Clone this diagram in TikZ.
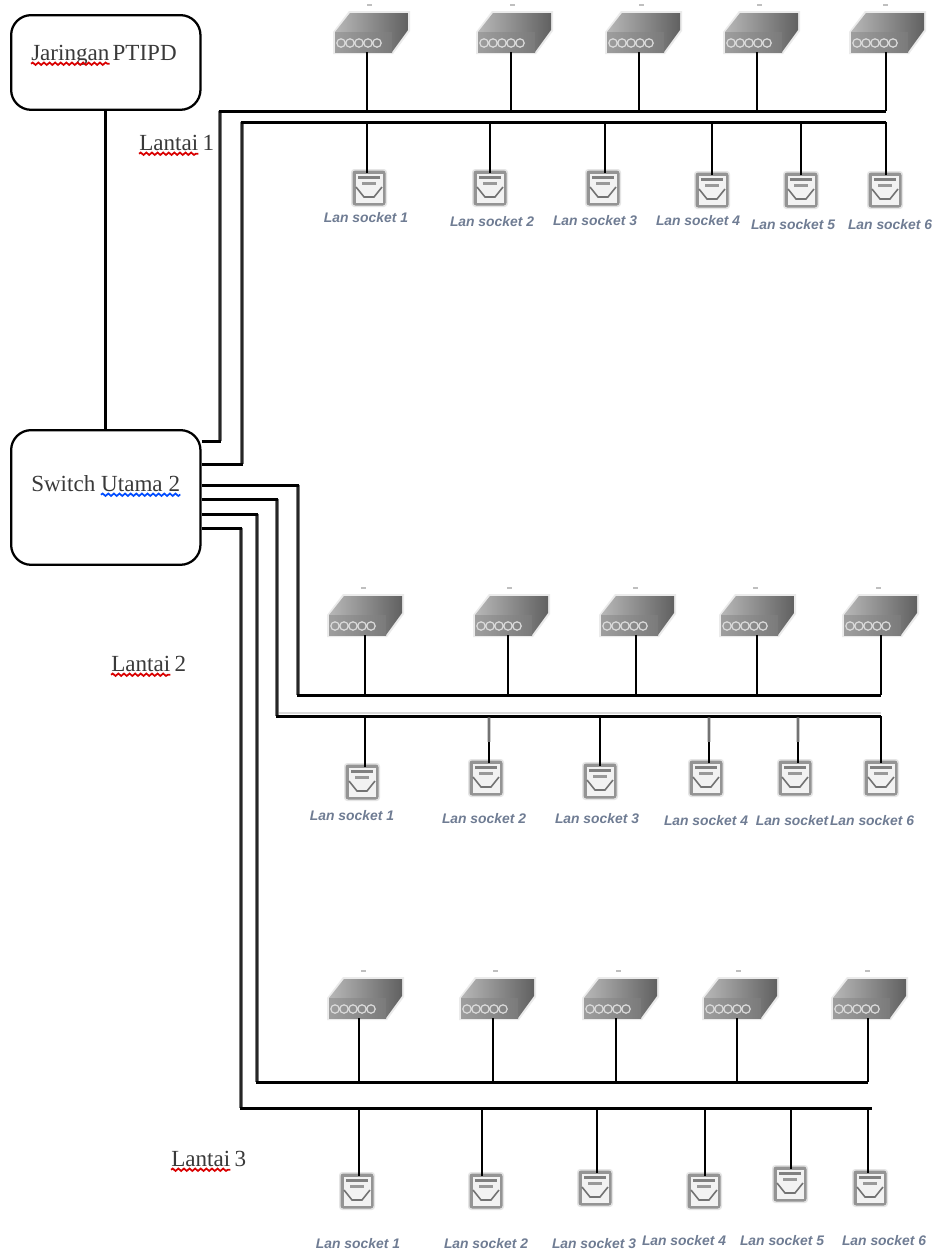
\documentclass[tikz,border=0pt]{standalone}
\usepackage{fontspec}
\setmainfont{Liberation Serif}
\newfontfamily\lanfont{Liberation Sans}
\usetikzlibrary{decorations.pathmorphing,calc}
\definecolor{lancol}{HTML}{6F7C93}
\definecolor{txtcol}{HTML}{3A3A3A}
\tikzset{
  x=0.75pt,y=-0.75pt,
  boxstyle/.style={draw=black,line width=1.7pt,rounded corners=15pt,fill=white},
  wire/.style={draw=black,line width=2.25pt,line cap=butt},
  thinwire/.style={draw=black,line width=2.1pt},
  fadewire/.style={draw=black!55,line width=2.1pt},
  halo/.style={draw=black!15,line width=1.5pt},
  vbus/.style={draw=black!52,line width=3pt},
  vcore/.style={draw=black!85,line width=1.1pt},
  txt/.style={font=\fontsize{17.3}{20}\selectfont,text=txtcol,inner sep=0pt,anchor=base west},
  lanlabel/.style={font=\lanfont\itshape\bfseries\fontsize{10.4}{12}\selectfont,text=lancol,inner sep=0pt},
  redwave/.style={draw=red!85!black,line width=1.3pt,decorate,decoration={snake,amplitude=0.9pt,segment length=4.2pt}},
  bluewave/.style={draw=blue!70!cyan,line width=1.3pt,decorate,decoration={snake,amplitude=0.9pt,segment length=4.2pt}},
}
% name, left, bottom, port x
\newcommand{\swicon}[4]{%
  \begin{scope}[shift={(#2,#3)}]
    \fill[black!8] (-2,-20)--(14,-41)--(75,-41)--(75,-21)--(58,2)--(-2,2)--cycle;
    \shade[left color=black!28,right color=black!62] (0,-20)--(15,-39)--(73,-39)--(73,-22)--(57,0)--(0,0)--cycle;
    \shade[left color=black!38,right color=black!52] (0,-20) rectangle (57,0);
    \draw[black!14,line width=0.9pt] (6,-9) circle (4.2) (15,-9) circle (4.2) (24,-9) circle (4.2) (33,-9) circle (4.2) (42,-9) circle (4.2);
    \fill[black!25] (32,-48) rectangle (37,-46.5);
  \end{scope}
  \coordinate (#1) at (#4,#3);}
% name, centre x, centre y
\newcommand{\sockicon}[3]{%
  \begin{scope}[shift={(#2,#3)}]
    \fill[black!10,rounded corners=2.5pt] (-18,-19) rectangle (18,19);
    \fill[black!42,rounded corners=2pt] (-16.5,-17.5) rectangle (16.5,17.5);
    \fill[black!5] (-13.5,-14.5) rectangle (13.5,14.5);
    \fill[black!50] (-11,-12) rectangle (11,-9);
    \fill[black!40] (-7,-6.5) rectangle (7,-3.5);
    \draw[black!55,line width=1.2pt] (-13,-1) -- (-5,9) -- (5,9) -- (13,-1);
  \end{scope}
  \coordinate (#1) at (#2,#3-15);}
% name, vertical x, origin y, bus y, end x
\newcommand{\busline}[5]{%
  \coordinate (#1o) at (#2,#3);
  \coordinate (#1e) at (#5,#4);
  \draw[vbus] (#1o) -- (#1o |- #1e);
  \draw[vcore] (#1o) -- (#1o |- #1e);
  \draw[wire] (swb.east |- #1o) -- ([xshift=1.1pt]#1o);
  \draw[wire] ([xshift=-1.1pt]#1o |- #1e) -- (#1e);}
\begin{document}
\begin{tikzpicture}
\useasboundingbox[fill=white] (0,0) rectangle (937,1254);

% boxes
\node[boxstyle,minimum width=142pt,minimum height=71pt,anchor=north west] (jar) at (10,14) {};
\node[boxstyle,minimum width=142pt,minimum height=101pt,anchor=north west] (swb) at (10,429) {};
\draw[wire] (jar.south) -- (swb.north);

% box texts
\node[txt] (j1) at (31,60) {Jaringan};
\node[txt,anchor=base west] (j2) at ([xshift=2pt]j1.base east) {PTIPD};
\draw[redwave] ([yshift=-2.8pt]j1.base west) -- ([yshift=-2.8pt]j1.base east);
\node[txt] (s1) at (31,491) {Switch};
\node[txt] (s2) at ([xshift=4pt]s1.base east) {Utama};
\node[txt] (s3) at ([xshift=4pt]s2.base east) {2};
\draw[bluewave] ([yshift=-2.8pt]s2.base west) -- ([yshift=-2.8pt]s3.base east);

% floor labels
\node[txt] (la1) at (139,150) {Lantai};
\node[txt] (la1n) at ([xshift=3pt]la1.base east) {1};
\draw[redwave] ([yshift=-2.8pt]la1.base west) -- ([yshift=-2.8pt]la1.base east);
\node[txt] (la2) at (111,671) {Lantai};
\node[txt] (la2n) at ([xshift=3pt]la2.base east) {2};
\draw[redwave] ([yshift=-2.8pt]la2.base west) -- ([yshift=-2.8pt]la2.base east);
\node[txt] (la3) at (171,1166) {Lantai};
\node[txt] (la3n) at ([xshift=3pt]la3.base east) {3};
\draw[redwave] ([yshift=-2.8pt]la3.base west) -- ([yshift=-2.8pt]la3.base east);

% halo above the second-floor socket bus
\coordinate (hs) at (277,713);
\coordinate (he) at (881,713);
\draw[halo] (hs) -- (he);

% trunk lines
\busline{ba}{220}{441}{111}{886}
\busline{bb}{242}{464}{122}{886}
\busline{bc}{298}{485}{695}{881}
\busline{bd}{277}{499}{716}{881}
\busline{be}{257}{514}{1082}{868}
\busline{bf}{241}{528}{1108}{872}

% switches row 1
\foreach \n/\l/\p in {a/335/367,b/478/511,c/607/639,d/725/757,e/851/886}{
  \swicon{swA\n}{\l}{52}{\p}
  \draw[thinwire] (swA\n) -- (swA\n |- bae);
}
% switches row 2
\foreach \n/\l/\p in {a/329/365,b/475/508,c/601/636,d/721/757,e/844/881}{
  \swicon{swB\n}{\l}{635}{\p}
  \draw[thinwire] (swB\n) -- (swB\n |- bce);
}
% switches row 3
\foreach \n/\l/\p in {a/329/359,b/461/493,c/584/616,d/704/737,e/833/868}{
  \swicon{swC\n}{\l}{1018}{\p}
  \draw[thinwire] (swC\n) -- (swC\n |- bee);
}

% sockets row 1
\foreach \n/\cx/\cy/\p/\lx/\ly/\t in {
  a/369/188/367/366/218/Lan socket 1,
  b/490/188/490/492/222/Lan socket 2,
  c/603/188/605/595/221/Lan socket 3,
  d/712/190/712/698/221/Lan socket 4,
  e/801/190/801/793/225/Lan socket 5,
  f/885/190/886/890/225/Lan socket 6}{
  \sockicon{skA\n}{\cx}{\cy}
  \coordinate (tA\n) at (\p,\cy-15);
  \draw[thinwire] (tA\n) -- (tA\n |- bbe);
  \node[lanlabel] (lbA\n) at (\lx,\ly) {\t};
}
% sockets row 2
\foreach \n/\cx/\cy/\p/\lx/\ly/\t in {
  a/362/782/365/352/816/Lan socket 1,
  b/486/778/489/484/819/Lan socket 2,
  c/600/781/600/597/819/Lan socket 3,
  d/706/778/709/706/821/Lan socket 4,
  e/795/778/798/792/821/Lan socket,
  f/881/778/881/872/821/Lan socket 6}{
  \sockicon{skB\n}{\cx}{\cy}
  \coordinate (tB\n) at (\p,\cy-15);
  \draw[thinwire] (tB\n) -- (tB\n |- bde);
  \node[lanlabel] (lbB\n) at (\lx,\ly) {\t};
}
% grey upper parts of some second-floor drops
\foreach \n in {b,d,e}{
  \coordinate (mB\n) at ($(tB\n)!0.45!(tB\n |- bde)$);
  \draw[fadewire] (mB\n) -- ([yshift=-1pt]tB\n |- bde);
}
% sockets row 3
\foreach \n/\cx/\cy/\p/\lx/\ly/\t in {
  a/357/1191/359/358/1244/Lan socket 1,
  b/486/1191/482/486/1244/Lan socket 2,
  c/595/1188/597/594/1244/Lan socket 3,
  d/704/1191/705/684/1241/Lan socket 4,
  e/790/1184/791/782/1241/Lan socket 5,
  f/870/1188/868/884/1241/Lan socket 6}{
  \sockicon{skC\n}{\cx}{\cy}
  \coordinate (tC\n) at (\p,\cy-15);
  \draw[thinwire] (tC\n) -- (tC\n |- bfe);
  \node[lanlabel] (lbC\n) at (\lx,\ly) {\t};
}
\end{tikzpicture}
\end{document}
